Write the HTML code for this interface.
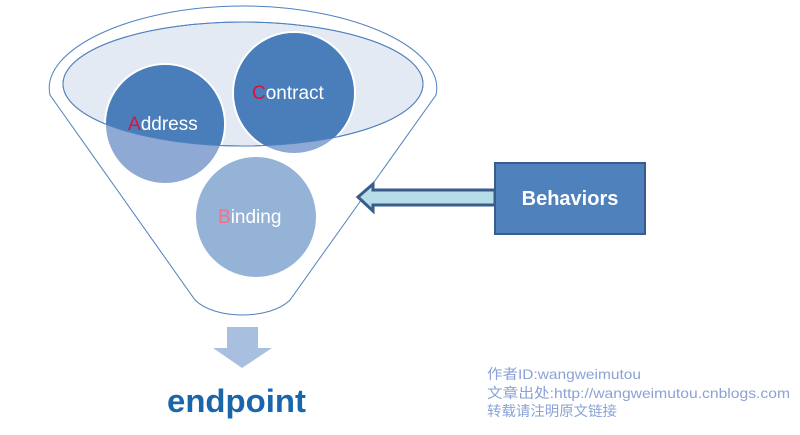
<!DOCTYPE html>
<html><head><meta charset="utf-8"><style>
html,body{margin:0;padding:0;background:#fff;width:800px;height:435px;overflow:hidden}
</style></head><body>
<svg width="800" height="435" viewBox="0 0 800 435" xmlns="http://www.w3.org/2000/svg">
<defs>
<clipPath id="ec"><ellipse cx="243" cy="84" rx="180" ry="62"/></clipPath>
</defs>
<path d="M50,95 C40,50 130,6 243,6 C356,6 446,50 436,95 L290,300 C270,320 215,320 195,300 Z" fill="#fff" stroke="#4f81bd" stroke-width="1"/>
<ellipse cx="243" cy="84" rx="180" ry="62" fill="#e3eaf4" stroke="#4f81bd" stroke-width="1"/>
<circle cx="165" cy="124" r="60" fill="#8eaad4" stroke="#fff" stroke-width="2"/>
<circle cx="294" cy="93" r="61" fill="#8eaad4" stroke="#fff" stroke-width="2"/>
<circle cx="256" cy="217" r="61" fill="#95b3d7" stroke="#fff" stroke-width="2"/>
<g clip-path="url(#ec)">
<circle cx="165" cy="124" r="59" fill="#4a7ebb"/>
<circle cx="294" cy="93" r="60" fill="#4a7ebb"/>
</g>
<ellipse cx="243" cy="84" rx="180" ry="62" fill="none" stroke="#4f81bd" stroke-width="1"/>
<g font-family="'Liberation Sans',sans-serif" font-size="19" fill="#fff">
<text x="128" y="130"><tspan fill="#e0103a">A</tspan>ddress</text>
<text x="252" y="99"><tspan fill="#e0103a">C</tspan>ontract</text>
<text x="218" y="223"><tspan fill="#f0708a">B</tspan>inding</text>
</g>
<path d="M495,190 L373,190 L373,184 L358,197 L373,211 L373,205 L495,205 Z" fill="#b7dde8" stroke="#385d8a" stroke-width="3"/>
<rect x="495" y="163" width="150" height="71" fill="#4f81bd" stroke="#385d8a" stroke-width="2"/>
<text x="570" y="205" text-anchor="middle" font-family="'Liberation Sans',sans-serif" font-weight="bold" font-size="20" fill="#fff">Behaviors</text>
<path d="M227,327 L258,327 L258,348 L272,348 L242,368 L213,348 L227,348 Z" fill="#a8bfe0"/>
<text x="167" y="412" textLength="139" lengthAdjust="spacingAndGlyphs" font-family="'Liberation Sans',sans-serif" font-weight="bold" font-size="32" fill="#1a66ab">endpoint</text>
<g font-family="'Liberation Sans','Noto Sans CJK SC',sans-serif" font-size="14" fill="#8aa2d6">
<text x="487" y="379" textLength="154" lengthAdjust="spacingAndGlyphs">作者ID:wangweimutou</text>
<text x="487" y="398" textLength="303" lengthAdjust="spacingAndGlyphs">文章出处:http://wangweimutou.cnblogs.com</text>
<text x="487" y="416" textLength="130" lengthAdjust="spacingAndGlyphs">转载请注明原文链接</text>
</g>
</svg>
</body></html>
